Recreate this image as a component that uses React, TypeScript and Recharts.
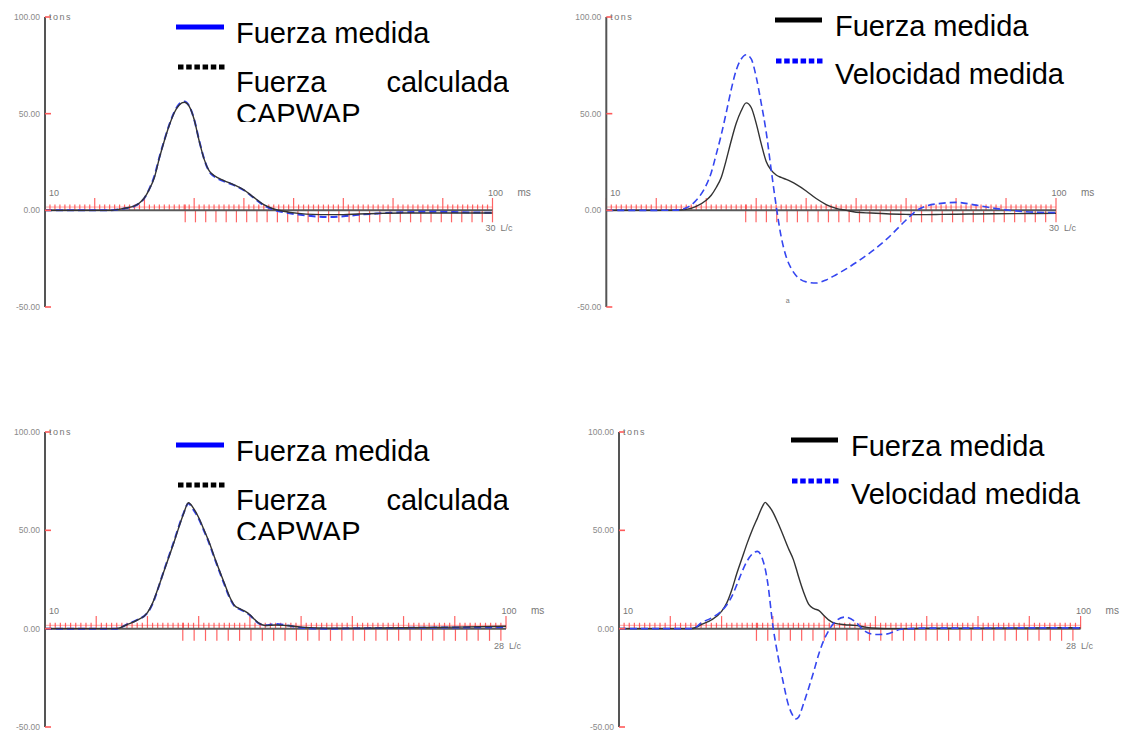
import React from "react";
import { LineChart, Line, XAxis, YAxis, ReferenceLine, ReferenceDot } from "recharts";

const FONT = '"Liberation Sans", Arial, Helvetica, sans-serif';

// Panel A (arriba izq.) - Fuerza medida vs Fuerza calculada CAPWAP, tons vs ms
const tiempoA = [10, 20, 23, 26, 28, 29, 30, 31, 32, 33, 34, 35, 36, 37, 38, 39, 40, 41, 42, 43, 44, 46, 48, 50, 52, 54, 56, 58, 61, 64, 67, 70, 73, 77, 82, 88, 94, 100];
const fuerzaMedidaA = [0, 0, 0, 1.0, 2.2, 3.7, 6.4, 11.2, 17.7, 27.4, 36.3, 44.3, 50.8, 55, 56.3, 54, 47, 36.2, 26.6, 20.2, 17.6, 15, 13, 10.4, 6.5, 2.6, 0.3, -1, -2.2, -3.1, -3.4, -3.1, -2.3, -1.6, -1, -0.7, -1, -1.3];
const fuerzaCapwapA = [0, 0, 0, 1.1, 2.3, 3.8, 6.5, 11, 17, 27, 36, 44, 50.5, 54.5, 55.9, 53.8, 47, 36, 26.5, 20.5, 18, 15.4, 13.2, 10.6, 6.7, 2.9, 0.7, -0.5, -1.6, -2.1, -2.2, -2.2, -1.9, -1.6, -1.4, -1.4, -1.4, -1.4];

// Panel B (arriba der.) - Fuerza medida vs Velocidad medida
const tiempoB = [10, 20, 24, 26, 28, 30, 31, 32, 33, 34, 35, 36, 37, 38, 39, 40, 41, 42, 43, 44, 45, 46, 47, 48, 50, 52, 54, 56, 58, 60, 63, 66, 70, 72, 74, 77, 80, 84, 88, 92, 96, 100];
const fuerzaB = [0, 0, 0.1, 0.5, 2.1, 5.2, 7.8, 11.8, 17, 26, 36, 45, 51.5, 55.6, 53.2, 45, 34.5, 25.3, 20.8, 18.3, 17, 16, 14.8, 13.4, 10, 6.1, 3, 1, 0, -1, -1.4, -1.8, -2.1, -2.2, -2.2, -2.1, -2, -1.9, -1.8, -1.7, -1.6, -1.5];
const velocidadB = [0, 0, 0.1, 1.3, 5.2, 13, 19.5, 29, 39, 50.5, 62.5, 72.5, 78.3, 80.5, 78.3, 69, 55.5, 40.5, 21, 2.3, -13.7, -24, -30, -33.8, -37, -37.6, -36, -33.3, -30.3, -27, -21.5, -15.2, -5, -0.3, 2.2, 3.6, 4.1, 2.7, 0.9, -0.3, -1, -1.2];

// Panel C (abajo izq.)
const tiempoC = [10, 20, 24, 26, 28, 30, 31, 32, 33, 34, 35, 36, 37, 38, 39, 40, 41, 42, 43, 44, 45, 46, 47, 48, 49, 50, 51, 52, 53, 55, 57, 60, 65, 70, 80, 90, 100];
const fuerzaMedidaC = [0, 0, 0, 2.2, 4.5, 8, 12.6, 19.8, 27.8, 35.5, 43, 51, 58.4, 63.6, 60.4, 56, 50, 43.8, 36.5, 29.5, 22.6, 16, 11.5, 9.9, 8.6, 6.8, 4.2, 2.3, 1.7, 2.4, 1.8, 0.5, 0, 0.2, 0.4, 0.6, 0.8];
const fuerzaCapwapC = [0, 0, 0, 2, 4.3, 8.2, 13, 20, 27.5, 35, 42.5, 50.5, 58, 64, 61.2, 56.5, 50.5, 44.3, 37, 30, 23.2, 16.5, 11.8, 10.2, 8.9, 7.1, 4.5, 2.4, 1.6, 1.9, 1.6, 0.8, 0.3, 0.3, 0.5, 0.8, 1.2];

// Panel D (abajo der.)
const tiempoD = [10, 20, 24, 25, 26, 28, 30, 31, 32, 33, 34, 35, 36, 37, 38, 38.5, 39, 40, 41, 42, 43, 44, 44.5, 45, 46, 47, 48, 49, 50, 51, 52, 54, 56, 58, 60, 62, 65, 70, 80, 90, 100];
const fuerzaD = [0, 0, 0, 0.6, 2, 4.4, 8.8, 13, 19.8, 28.3, 35.9, 43.5, 50.3, 56.3, 62.3, 64.2, 63, 59.3, 53.7, 47.5, 41, 35.1, 31, 26.5, 18.5, 12.3, 10.2, 9.2, 6.6, 4.2, 2.8, 2, 1.7, 0.8, 0.2, 0, 0, 0.2, 0.3, 0.4, 0.5];
const velocidadD = [0, 0, 0, 0.8, 2.9, 5.4, 9, 12, 16.4, 22.5, 29, 34.5, 38, 39.3, 35.2, 30.5, 23.2, 1.5, -14, -27, -38.5, -44.6, -45.9, -45, -38, -30, -21.5, -12.5, -5.5, -0.5, 3.2, 5.9, 3.7, -1.4, -3, -2.8, -0.3, 0.3, 0.3, 0.4, 0.4];

const yTicks = [-50, 0, 50, 100];
const lcStart = [38.2, 37.9, 36.9, 36.8];
const lcEnd = [100, 100, 99, 98.5];
const lcCount = [30, 30, 28, 28];
const legendCapwap = ["Fuerza medida", "Fuerza calculada CAPWAP"];
const legendVel = ["Fuerza medida", "Velocidad medida"];

const rows = (t: number[], a: number[], b: number[]) => t.map((x, i) => ({ t: x, a: a[i], b: b[i] }));

const RED = "#ff3030";

function YTick(props: any) {
  const { x, y, payload } = props;
  const v = Number(payload.value);
  return (
    <g>
      <text x={x} y={y} dy={3} textAnchor="end" fontSize={8.5} fill="#8a8a8a" fontFamily={FONT}>
        {v.toFixed(2)}
      </text>
      <line x1={x + 5} x2={x + 11} y1={y} y2={y} stroke="#ff5a5a" strokeWidth={1.6} />
      {v === 100 && (
        <text x={x + 9} y={y} dy={3} fontSize={9} letterSpacing={1.5} fill="#777" fontFamily={FONT}>
          tons
        </text>
      )}
    </g>
  );
}

const note = (text: string, dx: number, dy: number, anchor: "start" | "middle" | "end" = "start", size = 9) =>
  (p: any) => {
    const vb = p.viewBox || {};
    const cx = (vb.x ?? 0) + (vb.width ?? 0) / 2;
    const cy = (vb.y ?? 0) + (vb.height ?? 0) / 2;
    return (
      <text x={cx + dx} y={cy + dy} textAnchor={anchor} fontSize={size} fill="#777" fontFamily={FONT} style={{ whiteSpace: "pre" }}>
        {text}
      </text>
    );
  };

type Series = { key: "a" | "b"; color: string; width: number; dash?: string };

function Panel(props: {
  left: number;
  top: number;
  width: number;
  height: number;
  margin: { top: number; right: number; bottom: number; left: number };
  axisWidth: number;
  data: { t: number; a: number; b: number }[];
  series: Series[];
  idx: number;
  mark?: { x: number; y: number; text: string };
}) {
  const { idx } = props;
  const ms = Array.from({ length: 91 }, (_, i) => 10 + i);
  const n = lcCount[idx];
  const lc = Array.from({ length: n + 1 }, (_, i) => lcStart[idx] + (i * (lcEnd[idx] - lcStart[idx])) / n);
  return (
    <div style={{ position: "absolute", left: props.left, top: props.top }}>
      <LineChart width={props.width} height={props.height} data={props.data} margin={props.margin}>
        <XAxis dataKey="t" type="number" domain={[10, 100]} hide allowDataOverflow />
        <YAxis
          type="number"
          domain={[-50, 100]}
          ticks={yTicks}
          interval={0}
          width={props.axisWidth}
          tickSize={0}
          tickMargin={5}
          tickLine={false}
          axisLine={{ stroke: "#555", strokeWidth: 2 }}
          tick={<YTick />}
          allowDataOverflow
        />
        <ReferenceLine segment={[{ x: 10, y: 1.7 }, { x: 100, y: 1.7 }]} stroke={RED} strokeOpacity={0.45} />
        {ms.map((t) => (
          <ReferenceLine
            key={"ms" + t}
            segment={[{ x: t, y: 0 }, { x: t, y: t % 10 === 0 ? 6.4 : 3 }]}
            stroke={RED}
            strokeOpacity={0.75}
            strokeWidth={1.2}
          />
        ))}
        {lc.map((t, i) => (
          <ReferenceLine
            key={"lc" + i}
            segment={[{ x: t, y: i === 0 ? 3 : 0 }, { x: t, y: -6.2 }]}
            stroke={RED}
            strokeOpacity={0.75}
            strokeWidth={1.2}
          />
        ))}
        <ReferenceLine y={0} stroke="#5a5a5a" strokeWidth={2} />
        <ReferenceDot x={10} y={0} r={1} fill="none" stroke="none" label={note("10", 4, -14.5)} />
        <ReferenceDot x={100} y={0} r={1} fill="none" stroke="none" label={note("100", 3, -14.5, "middle")} />
        <ReferenceDot x={100} y={0} r={1} fill="none" stroke="none" label={note("ms", 25, -14.5, "start", 10)} />
        <ReferenceDot x={lcEnd[idx]} y={0} r={1} fill="none" stroke="none" label={note(`${n}  L/c`, -7, 20.5)} />
        {props.mark && (
          <ReferenceDot x={props.mark.x} y={props.mark.y} r={1} fill="none" stroke="none" label={note(props.mark.text, 0, 2, "middle", 7)} />
        )}
        {props.series.map((s) => (
          <Line
            key={s.key}
            dataKey={s.key}
            type="monotone"
            stroke={s.color}
            strokeWidth={s.width}
            strokeDasharray={s.dash}
            dot={false}
            activeDot={false}
            isAnimationActive={false}
          />
        ))}
      </LineChart>
    </div>
  );
}

function Sample({ x, y, w, color, dotted }: { x: number; y: number; w: number; color: string; dotted?: boolean }) {
  return (
    <svg style={{ position: "absolute", left: x, top: y - 4 }} width={w} height={8}>
      <line x1={0} x2={w} y1={4} y2={4} stroke={color} strokeWidth={5} strokeDasharray={dotted ? "5.5 2.7" : undefined} />
    </svg>
  );
}

const textStyle: React.CSSProperties = {
  position: "absolute",
  fontFamily: FONT,
  fontSize: 29,
  lineHeight: "32px",
  color: "#000",
  whiteSpace: "nowrap",
};

function LegendCapwap({ x, top }: { x: number; top: number }) {
  return (
    <>
      <Sample x={x - 60} y={top + 10} w={48} color="#0000ff" />
      <div style={{ ...textStyle, left: x, top: top }}>{legendCapwap[0]}</div>
      <Sample x={x - 58} y={top + 50} w={48} color="#000" dotted />
      <div
        style={{
          ...textStyle,
          left: x,
          top: top + 49.3,
          width: 273,
          height: 56,
          overflow: "hidden",
          whiteSpace: "normal",
          textAlign: "justify",
        }}
      >
        {legendCapwap[1]}
      </div>
    </>
  );
}

function LegendVel({ x, top }: { x: number; top: number }) {
  return (
    <>
      <Sample x={x - 60} y={top + 10} w={47} color="#000" />
      <div style={{ ...textStyle, left: x, top: top }}>{legendVel[0]}</div>
      <Sample x={x - 59} y={top + 51} w={48} color="#0000ff" dotted />
      <div style={{ ...textStyle, left: x, top: top + 48.2 }}>{legendVel[1]}</div>
    </>
  );
}

export default function App() {
  const blueDash: Series = { key: "a", color: "#2f3ff2", width: 2, dash: "7 4" };
  return (
    <div style={{ position: "absolute", left: 0, top: 0, width: 1124, height: 731, background: "#fff", overflow: "hidden" }}>
      <Panel
        idx={0}
        left={0}
        top={0}
        width={560}
        height={320}
        margin={{ top: 17, right: 67.5, bottom: 13, left: 0 }}
        axisWidth={45}
        data={rows(tiempoA, fuerzaMedidaA, fuerzaCapwapA)}
        series={[blueDash, { key: "b", color: "#333", width: 1.4 }]}
      />
      <Panel
        idx={1}
        left={560}
        top={0}
        width={564}
        height={320}
        margin={{ top: 17, right: 68, bottom: 13, left: 0 }}
        axisWidth={46.3}
        data={rows(tiempoB, fuerzaB, velocidadB)}
        series={[
          { key: "a", color: "#333", width: 1.4 },
          { key: "b", color: "#3546f0", width: 1.6, dash: "7 4" },
        ]}
        mark={{ x: 46.3, y: -47, text: "a" }}
      />
      <Panel
        idx={2}
        left={0}
        top={415}
        width={560}
        height={316}
        margin={{ top: 17, right: 54, bottom: 4, left: 0 }}
        axisWidth={45}
        data={rows(tiempoC, fuerzaMedidaC, fuerzaCapwapC)}
        series={[blueDash, { key: "b", color: "#333", width: 1.4 }]}
      />
      <Panel
        idx={3}
        left={560}
        top={415}
        width={564}
        height={316}
        margin={{ top: 17, right: 43.4, bottom: 4, left: 0 }}
        axisWidth={59}
        data={rows(tiempoD, fuerzaD, velocidadD)}
        series={[
          { key: "a", color: "#333", width: 1.4 },
          { key: "b", color: "#3546f0", width: 1.6, dash: "7 4" },
        ]}
      />
      <LegendCapwap x={236} top={16.5} />
      <LegendVel x={835} top={9.8} />
      <LegendCapwap x={236} top={434.8} />
      <LegendVel x={851} top={429.8} />
    </div>
  );
}
